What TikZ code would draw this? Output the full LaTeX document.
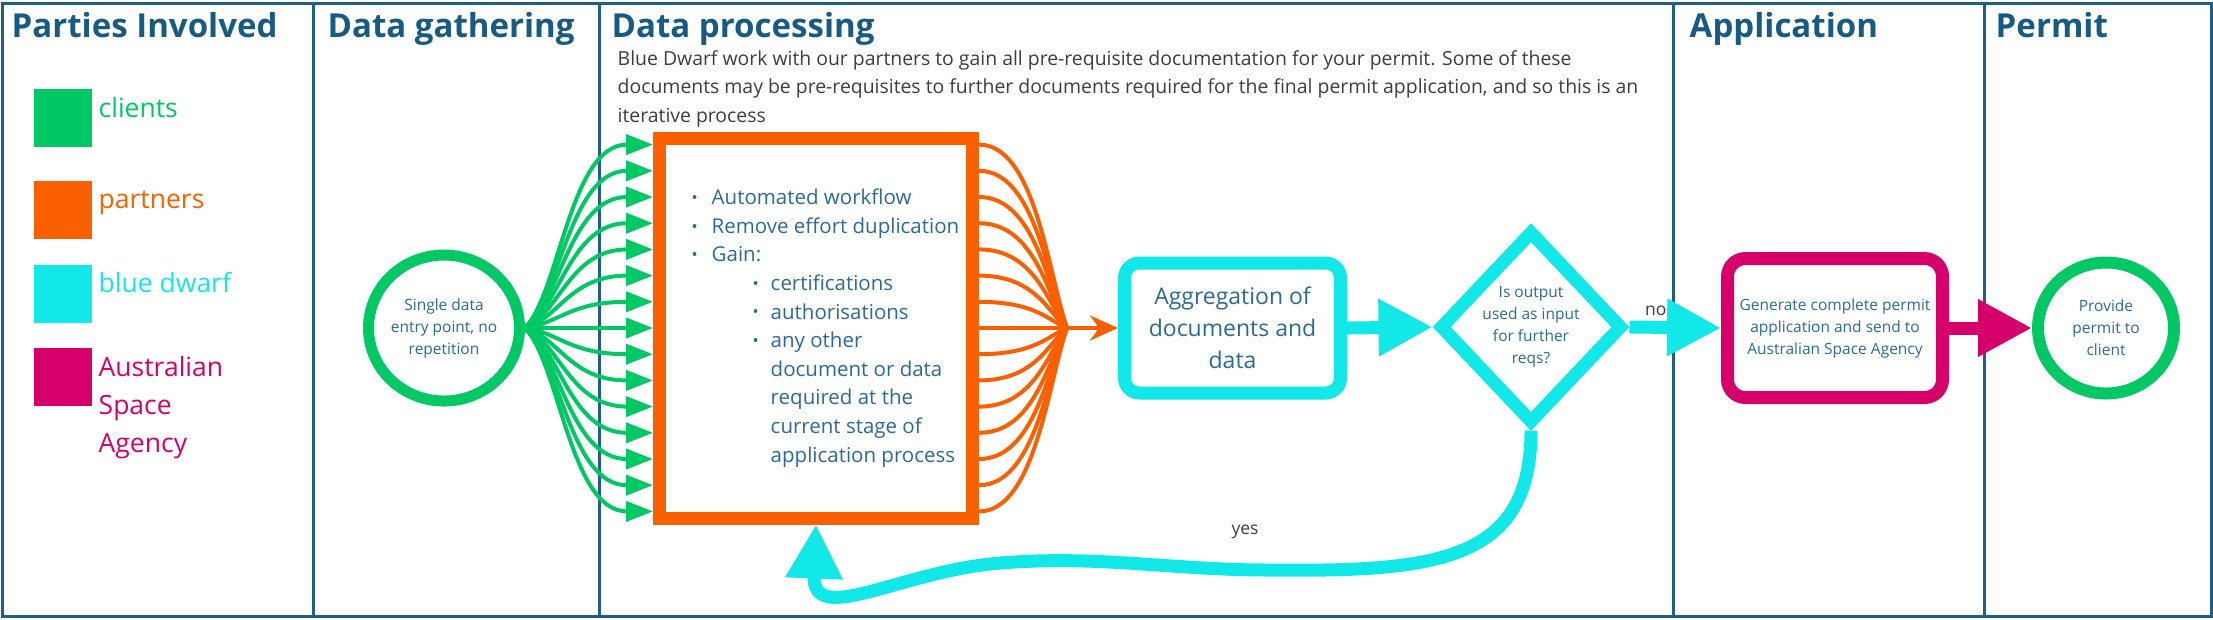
\documentclass[tikz,border=0pt]{standalone}
\usepackage{fontspec}
\setmainfont{Open Sans}
\usepackage{graphicx}
\usepackage{tikz}
\usetikzlibrary{positioning,arrows.meta,shapes.geometric,calc}
\definecolor{bdgreen}{HTML}{00C864}
\definecolor{bdorange}{HTML}{FA5F00}
\definecolor{bdcyan}{HTML}{12E8E8}
\definecolor{bdmagenta}{HTML}{D5006A}
\definecolor{bdlane}{HTML}{1F5E86}
\definecolor{bdhead}{HTML}{175A82}
\definecolor{bdtext}{HTML}{2B6A93}
\definecolor{bdgray}{HTML}{3D3D3D}

\newcommand{\dotbullet}{\raisebox{0.1ex}{\scalebox{0.8}{\textbullet}}}
\newcommand{\itemA}[1]{\hspace*{1.9mm}\makebox[2mm][l]{\dotbullet}#1}
\newcommand{\itemB}[1]{\hspace*{8mm}\makebox[1.8mm][l]{\dotbullet}#1}
\newcommand{\itemC}[1]{\hspace*{9.8mm}#1}

\begin{document}
\begin{tikzpicture}[x=0.1mm, y=-0.1mm,
    lane/.style={draw=bdlane, line width=0.3mm},
    heading/.style={anchor=base west, inner sep=0pt, text=bdhead, font=\fontsize{9.4}{11}\selectfont\bfseries},
    swatch/.style={fill=#1, anchor=north west, minimum size=5.8mm, inner sep=0pt},
    keytext/.style={anchor=base west, inner sep=0pt, align=left, text=#1, font=\fontsize{7.54}{10.7}\selectfont},
    smalltext/.style={align=center, inner sep=0pt, text=bdtext, font=\fontsize{4.41}{6.26}\selectfont},
    edgetag/.style={inner sep=0pt, text=bdgray, font=\fontsize{4.98}{6}\selectfont},
    fanin/.style={draw=bdgreen, line width=0.4mm, -{Triangle[length=2.7mm,width=2mm]}},
    fanout/.style={draw=bdorange, line width=0.4mm},
    flow/.style={line width=1.3mm, -{Triangle[length=5.4mm,width=5.4mm]}},
]
\useasboundingbox (0,0) rectangle (2213,619);

% swimlanes
\draw[lane] (2,3) rectangle (2211,616);
\foreach \x in {313,599,1673,1984}
  \draw[lane] (\x,3) -- (\x,616);

\node[heading] (hparties) at (11,37.5) {Parties Involved};
\node[heading] (hgather) at (327,37.5) {Data gathering};
\node[heading] (hprocess) at (611,37.5) {Data processing};
\node[heading] (happ) at (1689,37.5) {Application};
\node[heading] (hpermit) at (1995,37.5) {Permit};

% legend
\node[swatch=bdgreen] (kclients) at (33,88) {};
\node[swatch=bdorange] (kpartners) at (33,180) {};
\node[swatch=bdcyan] (kbd) at (33,264) {};
\node[swatch=bdmagenta] (kasa) at (33,347) {};
\node[keytext=bdgreen] (tclients) at (98,117) {clients};
\node[keytext=bdorange] (tpartners) at (98,208) {partners};
\node[keytext=bdcyan] (tbd) at (98,292) {blue dwarf};
\node[keytext=bdmagenta] (tasa) at (98,452) {Australian\\Space\\Agency};

\node[anchor=north west, align=left, inner sep=0pt, text=bdgray, font=\fontsize{5.52}{8.05}\selectfont] (desc) at (617,50)
  {Blue Dwarf work with our partners to gain all pre-requisite documentation for your permit. Some of these\\
   documents may be pre-requisites to further documents required for the final permit application, and so this is an\\
   iterative process};

% process nodes
\node[ellipse, draw=bdgreen, line width=1.1mm, minimum width=15.1mm, minimum height=14.6mm, smalltext] (entry) at (444,328)
  {Single data\\entry point, no\\repetition};
\node[draw=bdorange, line width=1.3mm, minimum width=31.3mm, minimum height=38mm, inner sep=0pt, align=left,
      text=bdtext, font=\fontsize{5.83}{8.14}\selectfont] (proc) at (816,328)
  {\itemA{Automated workflow}\\
   \itemA{Remove effort duplication}\\
   \itemA{Gain:}\\
   \itemB{certifications}\\
   \itemB{authorisations}\\
   \itemB{any other}\\
   \itemC{document or data}\\
   \itemC{required at the}\\
   \itemC{current stage of}\\
   \itemC{application process}};
\node[draw=bdcyan, line width=1.3mm, rounded corners=1.5mm, minimum width=21.6mm, minimum height=13mm, inner sep=0pt,
      align=center, text=bdtext, font=\fontsize{6.54}{9.1}\selectfont] (agg) at (1232.5,328)
  {Aggregation of\\documents and\\data};
\node[diamond, draw=bdcyan, line width=1.3mm, minimum width=18.4mm, minimum height=19.4mm, smalltext] (dec) at (1531,327)
  {Is output\\used as input\\for further\\reqs?};
\node[draw=bdmagenta, line width=1.3mm, rounded corners=1.8mm, minimum width=21.5mm, minimum height=13.9mm, smalltext] (app) at (1835,328)
  {Generate complete permit\\application and send to\\Australian Space Agency};
\node[ellipse, draw=bdgreen, line width=1.2mm, minimum width=13.6mm, minimum height=13.1mm, smalltext] (permit) at (2106,328)
  {Provide\\permit to\\client};

% fan in / fan out
\foreach \i [evaluate=\i as \yy using 328+(\i-7)*26.2] in {0,...,14}
  \draw[fanin] (entry.east) .. controls (560,{328+(\yy-328)*0.2}) and (570,\yy) .. (proc.west |- 0,\yy);
\coordinate (merge) at (1067,328);
\foreach \i [evaluate=\i as \yy using 328+(\i-7)*26.2] in {0,...,14}
  \draw[fanout] (proc.east |- 0,\yy) .. controls (1035,\yy) and (1048,{328+(\yy-328)*0.3}) .. (merge);
\draw[fanout, -{Stealth[length=2.8mm,width=2.5mm]}] (merge) -- (agg.west);

% main flow
\node[edgetag, anchor=base east] (no) at (1667,315) {no};
\node[edgetag] (yes) at (1245,532) {yes};
\draw[flow, draw=bdcyan] (agg.east) -- (dec.west);
\draw[flow, draw=bdcyan] (dec.east) -- (app.west);
\draw[flow, draw=bdmagenta] (app.east) -- (permit.west);
\draw[flow, draw=bdcyan] (dec.south) .. controls (1531,560) and (1440,572) .. (1270,570)
  .. controls (1170,570) and (1100,555) .. (1000,563)
  .. controls (900,571) and (812,628) .. (proc.south);
\end{tikzpicture}
\end{document}
